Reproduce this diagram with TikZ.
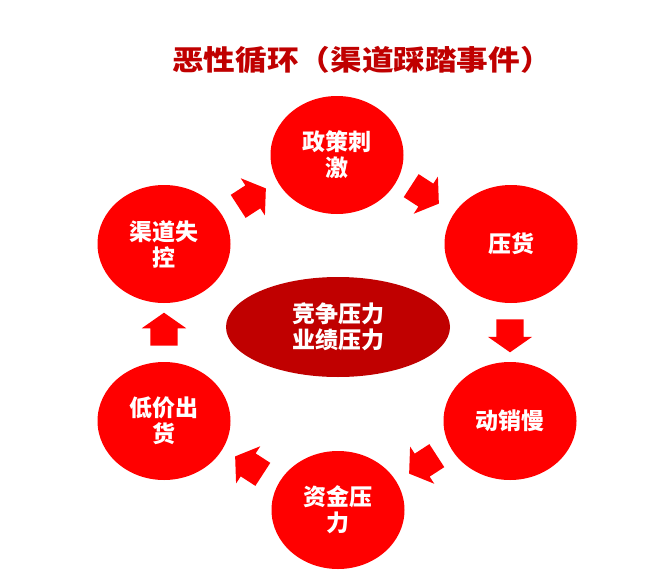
\documentclass[tikz,border=0pt]{standalone}
\usepackage{fontspec}
\newfontfamily\cjk{Noto Sans CJK SC}
\usetikzlibrary{shapes.geometric,shapes.arrows}
\definecolor{brightred}{HTML}{FF0000}
\definecolor{darkred}{HTML}{C00000}
\begin{document}
\begin{tikzpicture}[x=1pt,y=-1pt,
  titletext/.style={text=darkred,font=\cjk\bfseries\fontsize{28}{32}\selectfont,xscale=1.13},
  stagenode/.style={ellipse,fill=brightred,minimum width=133pt,minimum height=118pt,inner sep=0pt,
    text=white,align=center,font=\cjk\bfseries\fontsize{23}{26}\selectfont},
  corenode/.style={ellipse,fill=darkred,minimum width=224pt,minimum height=100pt,inner sep=0pt,
    text=white,align=center,font=\cjk\bfseries\fontsize{23}{26}\selectfont},
  flowarrow/.style={single arrow,fill=brightred,draw=none,inner sep=0pt,
    text height=27pt,text depth=0pt,text width=0pt,
    minimum height=33pt,minimum width=44pt,
    single arrow head extend=8.5pt,single arrow tip angle=110}]
\useasboundingbox[fill=white] (0,0) rectangle (669,578);
\node[titletext] (title) at (362,60) {恶性循环（渠道踩踏事件）};
\node[stagenode] (s1) at (337,155) {政策刺\\激};
\node[stagenode] (s2) at (511,244) {压货};
\node[stagenode] (s3) at (510,421) {动销慢};
\node[stagenode] (s4) at (338,510) {资金压\\力};
\node[stagenode] (s5) at (164,421) {低价出\\货};
\node[stagenode] (s6) at (164,244) {渠道失\\控};
\node[corenode] (core) at (338,327) {竞争压力\\业绩压力};
\node[flowarrow,rotate=33] (a1) at (248,200) {};
\node[flowarrow,rotate=-33] (a2) at (421,192) {};
\node[flowarrow,rotate=-90] (a3) at (510,331) {};
\node[flowarrow,rotate=-147] (a4) at (427,462) {};
\node[flowarrow,rotate=147] (a5) at (253,468) {};
\node[flowarrow,rotate=90] (a6) at (164,334) {};
\end{tikzpicture}
\end{document}
